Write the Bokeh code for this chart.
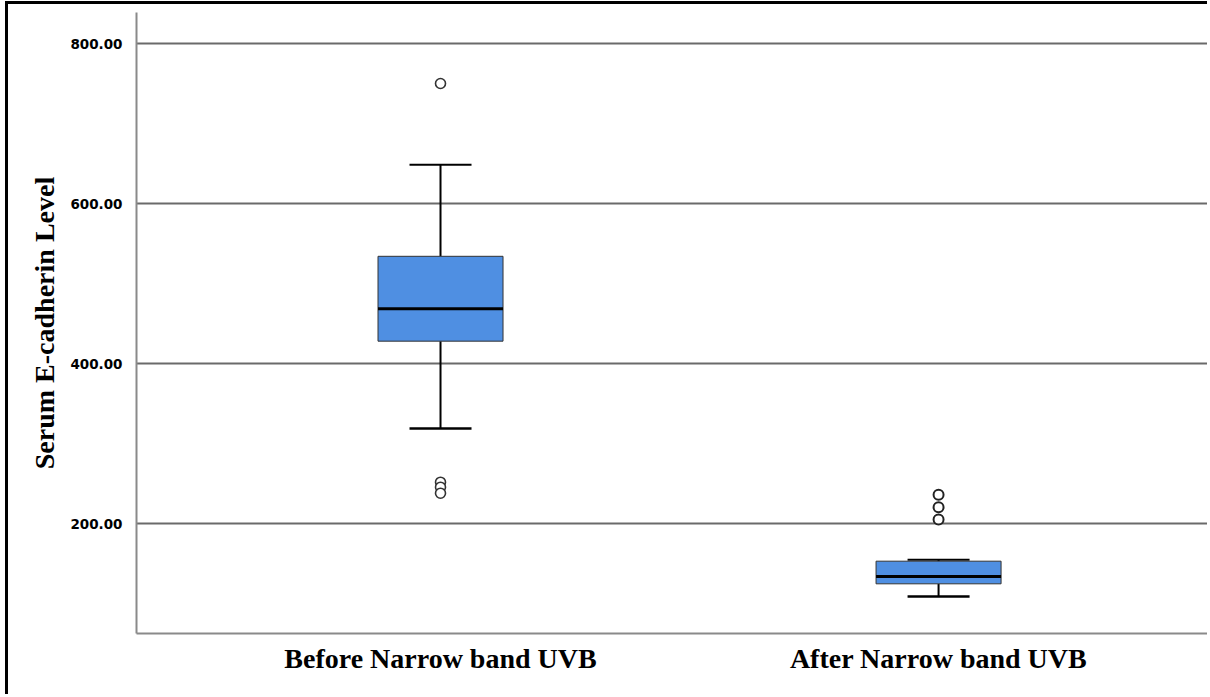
from bokeh.plotting import figure
from bokeh.models import FixedTicker, Range1d, ColumnDataSource
from bokeh.embed import file_html
from bokeh.resources import INLINE

# ---- data ----
groups = ["Before Narrow band UVB", "After Narrow band UVB"]
positions = [1, 2]
q1 = [427.9, 124.6]
median = [468.5, 133.75]
q3 = [534.0, 152.9]
whisker_low = [318.75, 108.75]
whisker_high = [648.5, 154.6]
outliers_before = [750.0, 251.6, 245.4, 237.9]
outliers_after = [236.0, 220.4, 205.0]
y_ticks = [200, 400, 600, 800]

box_w = 0.251
cap_w = 0.1245

p = figure(width=1202, height=693, output_backend="svg", toolbar_location=None,
           x_range=Range1d(0.3896, 2.546), y_range=Range1d(62.5, 838.75),
           min_border_left=128, min_border_right=0, min_border_top=8,
           min_border_bottom=64)
p.styles = {"margin-left": "5px", "margin-top": "1px",
            "border-left": "3px solid black", "border-top": "3px solid black"}
p.outline_line_color = None
p.background_fill_color = "white"
p.border_fill_color = "white"

src = ColumnDataSource(dict(
    x=positions, q1=q1, med=median, q3=q3, lo=whisker_low, hi=whisker_high,
    x0=[v - box_w / 2 for v in positions], x1=[v + box_w / 2 for v in positions],
    c0=[v - cap_w / 2 for v in positions], c1=[v + cap_w / 2 for v in positions],
))

# whiskers
p.segment(x0="x", y0="q3", x1="x", y1="hi", source=src, line_color="black", line_width=2)
p.segment(x0="x", y0="q1", x1="x", y1="lo", source=src, line_color="black", line_width=2)
p.segment(x0="c0", y0="hi", x1="c1", y1="hi", source=src, line_color="black", line_width=2)
p.segment(x0="c0", y0="lo", x1="c1", y1="lo", source=src, line_color="black", line_width=2.5)
# boxes
p.vbar(x="x", top="q3", bottom="q1", width=box_w, source=src,
       fill_color="#4f8fe2", line_color="#333333", line_width=1)
# medians
p.segment(x0="x0", y0="med", x1="x1", y1="med", source=src, line_color="black", line_width=3)
# outliers
p.scatter([positions[0]] * len(outliers_before), outliers_before, size=10,
          fill_color="white", line_color="#333333", line_width=1.6)
p.scatter([positions[1]] * len(outliers_after), outliers_after, size=10,
          fill_color="white", line_color="#222222", line_width=2)

# axes
p.xaxis.ticker = FixedTicker(ticks=positions)
p.xaxis.major_label_overrides = {positions[i]: groups[i] for i in range(len(groups))}
p.xaxis.major_label_text_font = "Liberation Serif"
p.xaxis.major_label_text_font_style = "bold"
p.xaxis.major_label_text_font_size = "28px"
p.xaxis.major_label_text_color = "black"
p.xaxis.major_label_standoff = 3
p.xaxis.major_tick_line_color = None
p.xaxis.minor_tick_line_color = None
p.xaxis.axis_line_color = "#8a8a8a"
p.xaxis.axis_line_width = 2

p.yaxis.ticker = FixedTicker(ticks=y_ticks)
p.yaxis.major_label_overrides = {t: f"{t:.2f}" for t in y_ticks}
p.yaxis.major_label_text_font = "DejaVu Sans"
p.yaxis.major_label_text_font_style = "bold"
p.yaxis.major_label_text_font_size = "13.5px"
p.yaxis.major_label_text_color = "black"
p.yaxis.major_label_standoff = 8
p.yaxis.major_tick_line_color = None
p.yaxis.minor_tick_line_color = None
p.yaxis.axis_line_color = "#8a8a8a"
p.yaxis.axis_line_width = 2
p.yaxis.axis_label = "Serum E-cadherin Level"
p.yaxis.axis_label_text_font = "Liberation Serif"
p.yaxis.axis_label_text_font_style = "bold"
p.yaxis.axis_label_text_font_size = "28px"
p.yaxis.axis_label_text_color = "black"
p.yaxis.axis_label_standoff = 7

p.xgrid.grid_line_color = None
p.ygrid.grid_line_color = "#6a6a6a"
p.ygrid.grid_line_width = 2
p.ygrid.ticker = FixedTicker(ticks=y_ticks)

open("out.html", "w").write(file_html(p, INLINE))
